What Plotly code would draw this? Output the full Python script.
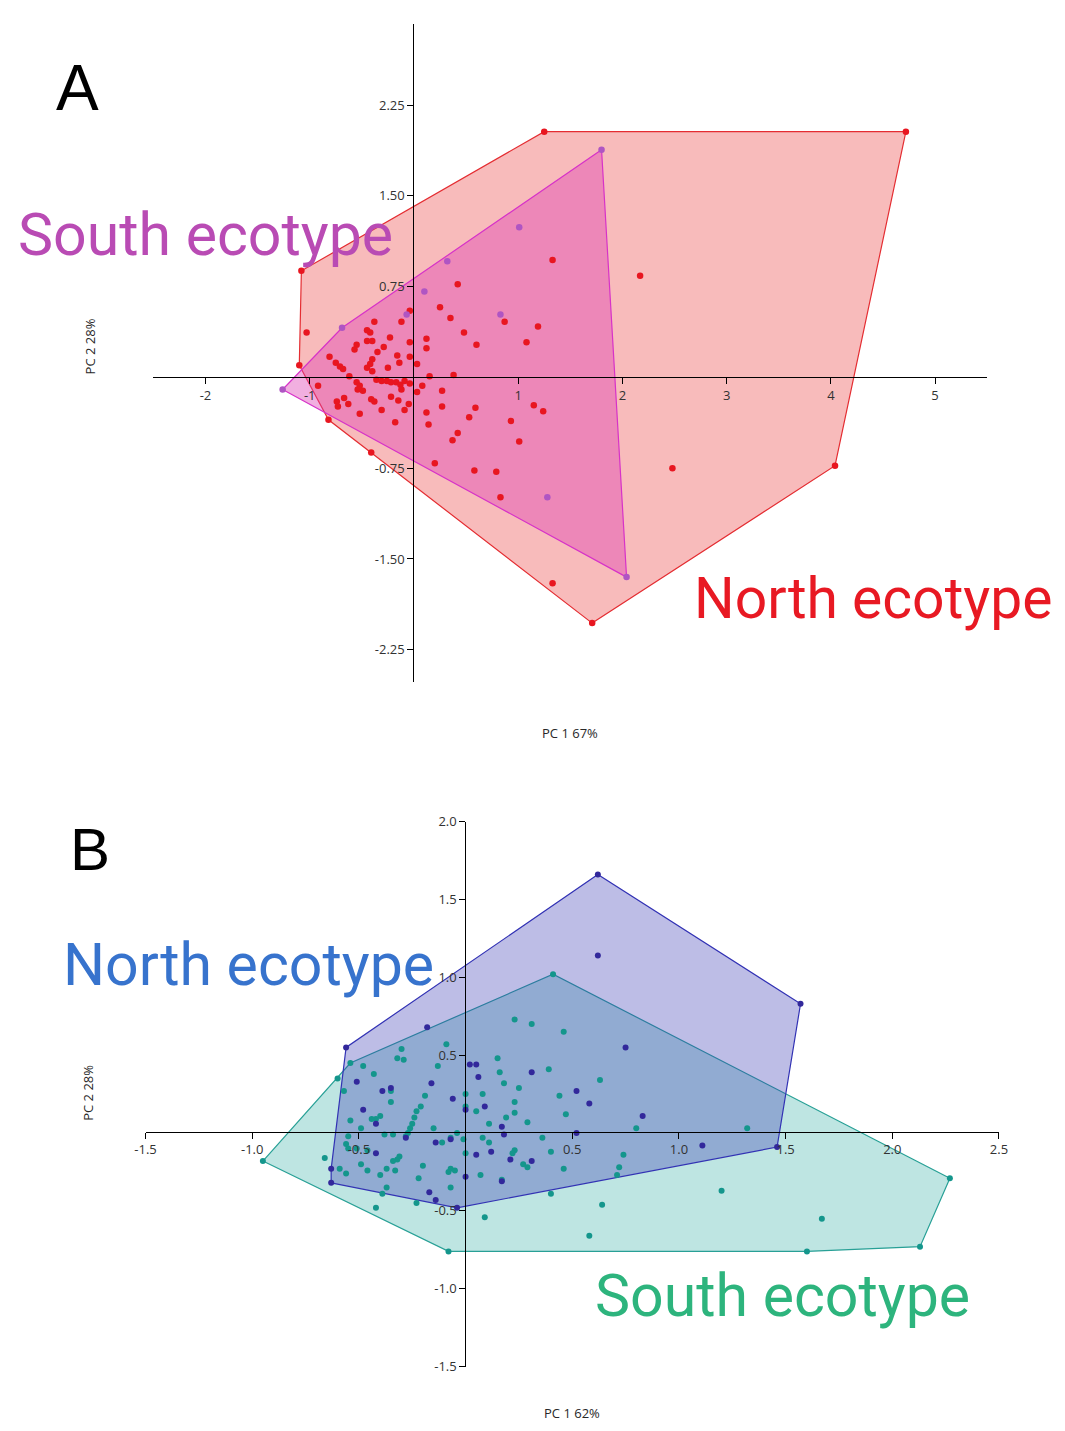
import plotly.graph_objects as go

# The page keeps the browser's default 8px body margin, so the figure is 16px
# smaller than the window and every reference pixel is shifted by 8.
M = 8
FW, FH = 1065 - 2 * M, 1431 - 2 * M

# ---------------- Panel A data (PC1 67%, PC2 28%) ----------------
a_north_x = [1.25, 4.72, 4.04, 1.71, -0.82, -1.10, -1.08, -0.41, 1.33, 2.17, 2.48, -1.03,
             -0.04, -0.38, -0.12, -0.45, -0.42, -0.23, -0.45, -0.40, -0.55, -0.57, -0.29, 0.12,
             -0.04, -0.35, 0.12, -0.81, -0.16, -0.04, -0.40, -0.42, -0.45, -0.75, -0.71, -0.68,
             -0.14, -0.25, -0.40, 0.03, -0.62, -0.36, -0.31, -0.26, -0.22, -0.17, -0.13, -0.09,
             -0.04, -0.55, -0.52, -0.54, -0.49, 0.15, 0.08, -0.92, 0.03, -0.12, -0.41, -0.38,
             -0.22, -0.15, -0.67, -0.74, -0.73, -0.63, -0.05, -0.09, -0.31, -0.52, 0.12, -0.18,
             0.14, 1.33, 0.42, 0.25, 0.87, 0.35, 1.19, 0.48, 1.08, 0.60, 0.38, 0.27, 0.27, 0.59,
             1.15, 1.24, 0.53, 0.93, 0.42, 0.37, 1.01, 0.20, 0.58, 0.79, 0.83]
a_north_y = [2.03, 2.03, -0.73, -2.03, -0.35, 0.10, 0.88, -0.62, -1.70, 0.84, -0.75, 0.37,
             0.55, 0.46, 0.46, 0.39, 0.37, 0.33, 0.30, 0.30, 0.27, 0.23, 0.25, 0.32,
             0.29, 0.21, 0.24, 0.17, 0.18, 0.17, 0.15, 0.11, 0.08, 0.12, 0.09, 0.07,
             0.12, 0.08, 0.05, 0.11, 0.01, -0.02, -0.03, -0.03, -0.04, -0.04, -0.06, -0.03,
             -0.05, -0.04, -0.07, -0.10, -0.11, 0.01, -0.07, -0.07, -0.12, -0.10, -0.18, -0.20,
             -0.16, -0.19, -0.17, -0.20, -0.24, -0.22, -0.22, -0.27, -0.27, -0.30, -0.29, -0.37,
             -0.39, 0.97, 0.77, 0.58, 0.46, 0.49, 0.42, 0.37, 0.29, 0.27, 0.02, -0.11, -0.24, -0.25,
             -0.23, -0.28, -0.33, -0.36, -0.46, -0.52, -0.53, -0.71, -0.77, -0.78, -0.99]

a_south_x = [-1.26, -0.69, 1.80, 2.04, 1.01, 0.32, 0.10, 0.83, -0.07, 1.28]
a_south_y = [-0.10, 0.41, 1.88, -1.65, 1.24, 0.96, 0.71, 0.52, 0.52, -0.99]

a_xticks = [-2, -1, 1, 2, 3, 4, 5]
a_xtick_text = ["-2", "-1", "1", "2", "3", "4", "5"]
a_yticks = [2.25, 1.50, 0.75, -0.75, -1.50, -2.25]
a_ytick_text = ["2.25", "1.50", "0.75", "-0.75", "-1.50", "-2.25"]

# ---------------- Panel B data (PC1 62%, PC2 28%) ----------------
b_north_x = [0.62, 0.62, 1.57, 1.46, -0.04, -0.63, -0.63, -0.56, -0.18, 0.75, 0.83, 1.11,
             0.05, 0.02, 0.06, 0.31, 0.52, 0.58, 0.09, 0.17, 0.18, 0.05, 0.12, 0.21, 0.31,
             0.17, 0.52, -0.51, -0.39, -0.35, -0.16, -0.06, 0.00, -0.48, -0.42, -0.28, -0.14,
             -0.07, -0.42, 0.00, -0.17, -0.14]
b_north_y = [1.66, 1.14, 0.83, -0.09, -0.48, -0.32, -0.23, 0.55, 0.68, 0.55, 0.11, -0.08,
             0.44, 0.44, 0.36, 0.39, 0.27, 0.19, 0.17, 0.04, -0.01, -0.14, -0.12, -0.17, -0.18,
             -0.31, 0.00, 0.33, 0.27, 0.29, 0.32, 0.22, 0.15, 0.15, 0.06, -0.03, -0.06,
             -0.04, -0.13, -0.28, -0.38, -0.43]

b_south_x = [0.41, 2.27, 2.13, 1.60, -0.08, -0.95, -0.60, -0.54, -0.09, -0.30, -0.32, -0.29,
             -0.48, -0.43, -0.13, -0.35, -0.57, -0.35, -0.19, -0.21, -0.23, -0.24, -0.25, -0.26,
             -0.27, -0.28, -0.40, -0.42, -0.44, -0.54, -0.49, -0.38, -0.34, -0.55, -0.56, -0.55,
             -0.51, -0.46, -0.31, -0.32, -0.34, -0.49, -0.46, -0.59, -0.56, -0.66, -0.37, -0.33,
             -0.40, -0.22, -0.20, -0.15, -0.11, -0.07, -0.04, -0.01, 0.00, -0.07, -0.08, -0.05,
             -0.07, -0.37, -0.39, -0.42, -0.23, 0.00, 0.00, 0.05, 0.23, 0.31, 0.46, 0.15, 0.16,
             0.18, 0.25, 0.39, 0.63, 0.44, 0.08, 0.23, 0.23, 0.19, 0.47, 0.29, 0.11, 0.80, 0.08,
             0.11, 0.36, 0.23, 0.22, 0.40, 0.74, 0.27, 0.29, 0.46, 0.72, 0.71, 0.07, 0.17, 0.40,
             0.64, 0.09, 1.32, 1.20, 1.67, 0.58]
b_south_y = [1.02, -0.29, -0.73, -0.76, -0.76, -0.18, 0.35, 0.45, 0.57, 0.54, 0.48, 0.47,
             0.43, 0.38, 0.43, 0.27, 0.27, 0.20, 0.24, 0.17, 0.14, 0.10, 0.06, 0.03,
             0.00, -0.02, 0.11, 0.09, 0.09, 0.08, 0.03, -0.01, -0.01, -0.02, -0.07, -0.10,
             -0.10, -0.11, -0.15, -0.17, -0.18, -0.20, -0.24, -0.23, -0.26, -0.16, -0.23, -0.24,
             -0.27, -0.29, -0.21, 0.03, -0.06, -0.03, 0.00, -0.04, -0.13, -0.23, -0.25, -0.24,
             -0.35, -0.35, -0.39, -0.48, -0.45, 0.25, 0.17, 0.14, 0.73, 0.70, 0.65, 0.48, 0.39,
             0.32, 0.29, 0.41, 0.34, 0.24, 0.25, 0.20, 0.13, 0.10, 0.12, 0.07, 0.06, 0.03, -0.03,
             -0.06, -0.03, -0.11, -0.13, -0.12, -0.14, -0.20, -0.22, -0.23, -0.22, -0.27, -0.27, -0.30, -0.39,
             -0.46, -0.54, 0.03, -0.37, -0.55, -0.66]

b_xticks = [-1.5, -1.0, -0.5, 0.5, 1.0, 1.5, 2.0, 2.5]
b_xtick_text = ["-1.5", "-1.0", "-0.5", "0.5", "1.0", "1.5", "2.0", "2.5"]
b_yticks = [2.0, 1.5, 1.0, 0.5, -0.5, -1.0, -1.5]
b_ytick_text = ["2.0", "1.5", "1.0", "0.5", "-0.5", "-1.0", "-1.5"]


def px_x(px):
    return (px - M) / FW


def px_y(py):
    return 1 - (py - M) / FH


def convex_hull(xs, ys):
    pts = sorted(set(zip(xs, ys)))
    if len(pts) < 3:
        return pts

    def cross(o, a, b):
        return (a[0] - o[0]) * (b[1] - o[1]) - (a[1] - o[1]) * (b[0] - o[0])

    lower, upper = [], []
    for p in pts:
        while len(lower) >= 2 and cross(lower[-2], lower[-1], p) <= 0:
            lower.pop()
        lower.append(p)
    for p in reversed(pts):
        while len(upper) >= 2 and cross(upper[-2], upper[-1], p) <= 0:
            upper.pop()
        upper.append(p)
    hull = lower[:-1] + upper[:-1]
    return hull + [hull[0]]


def hull_trace(xs, ys, line_color, fill_color, xa, ya):
    h = convex_hull(xs, ys)
    return go.Scatter(x=[p[0] for p in h], y=[p[1] for p in h], mode="lines",
                      fill="toself", fillcolor=fill_color,
                      line=dict(color=line_color, width=1.2),
                      xaxis=xa, yaxis=ya, hoverinfo="skip", showlegend=False)


def pts_trace(xs, ys, color, xa, ya, size=6):
    return go.Scatter(x=xs, y=ys, mode="markers", marker=dict(color=color, size=size),
                      xaxis=xa, yaxis=ya, showlegend=False)


fig = go.Figure()
# Panel A
fig.add_trace(hull_trace(a_north_x, a_north_y, "rgb(228,45,50)", "rgba(235,60,60,0.35)", "x", "y"))
fig.add_trace(hull_trace(a_south_x, a_south_y, "rgb(215,50,200)", "rgba(220,60,180,0.41)", "x", "y"))
fig.add_trace(pts_trace(a_north_x, a_north_y, "rgb(232,22,32)", "x", "y", 6.5))
fig.add_trace(pts_trace(a_south_x, a_south_y, "rgb(175,85,195)", "x", "y", 6.5))
# Panel B
fig.add_trace(hull_trace(b_south_x, b_south_y, "rgb(40,160,150)", "rgba(40,170,160,0.30)", "x2", "y2"))
fig.add_trace(hull_trace(b_north_x, b_north_y, "rgb(50,50,180)", "rgba(55,55,180,0.33)", "x2", "y2"))
fig.add_trace(pts_trace(b_south_x, b_south_y, "rgb(20,150,140)", "x2", "y2", 6))
fig.add_trace(pts_trace(b_north_x, b_north_y, "rgb(50,40,155)", "x2", "y2", 6))

tick_font = dict(family="Open Sans, DejaVu Sans, sans-serif", size=13, color="rgb(50,50,50)")
ax_common = dict(showgrid=False, zeroline=False, showline=True, linecolor="black", linewidth=1,
                 ticks="outside", ticklen=6, tickwidth=1, tickcolor="black",
                 tickfont=tick_font, fixedrange=True)

fig.update_layout(
    width=FW, height=FH, margin=dict(l=0, r=0, t=0, b=0),
    paper_bgcolor="white", plot_bgcolor="rgba(0,0,0,0)",
    xaxis=dict(domain=[px_x(145), px_x(995)], range=[-2.5, 5.5], anchor="free",
               position=px_y(373), tickvals=a_xticks, ticktext=a_xtick_text, **ax_common),
    yaxis=dict(domain=[px_y(682), px_y(15)], range=[-2.52, 2.92], anchor="free",
               position=px_x(410), tickvals=a_yticks, ticktext=a_ytick_text, **ax_common),
    xaxis2=dict(domain=[px_x(137), px_x(1007)], range=[-1.5, 2.5], anchor="free",
                position=px_y(1137), tickvals=b_xticks, ticktext=b_xtick_text, **ax_common),
    yaxis2=dict(domain=[px_y(1375), px_y(823)], range=[-1.5, 2.0], anchor="free",
                position=px_x(463), tickvals=b_yticks, ticktext=b_ytick_text, **ax_common),
)


def ann(text, px, py, size, color, family, xanchor="left", textangle=0):
    fig.add_annotation(text=text, x=px_x(px), y=px_y(py), xref="paper", yref="paper",
                       xanchor=xanchor, yanchor="middle", showarrow=False, textangle=textangle,
                       font=dict(family=family, size=size, color=color))


title_font = "Open Sans, DejaVu Sans, sans-serif"
ann("PC 1 67%", 570, 733, 13, "rgb(40,40,40)", title_font, "center")
ann("PC 2 28%", 80, 342, 13, "rgb(40,40,40)", title_font, "center", -90)
ann("PC 1 62%", 572, 1422, 13, "rgb(40,40,40)", title_font, "center")
ann("PC 2 28%", 78, 1098, 13, "rgb(40,40,40)", title_font, "center", -90)

letter_font = "Liberation Sans, Arial, sans-serif"
ann("A", 68, 80, 64, "black", letter_font, "center")
ann("B", 80, 851, 60, "black", letter_font, "center")

big_font = "Roboto, sans-serif"
ann("South ecotype", 5, 228, 59, "rgb(185,75,180)", big_font)
ann("North ecotype", 694, 597, 57, "rgb(232,25,35)", big_font)
ann("North ecotype", 51, 968, 59, "rgb(55,115,205)", big_font)
ann("South ecotype", 593, 1303, 59, "rgb(45,180,125)", big_font)

fig.write_html("out.html", config={"displayModeBar": False})
